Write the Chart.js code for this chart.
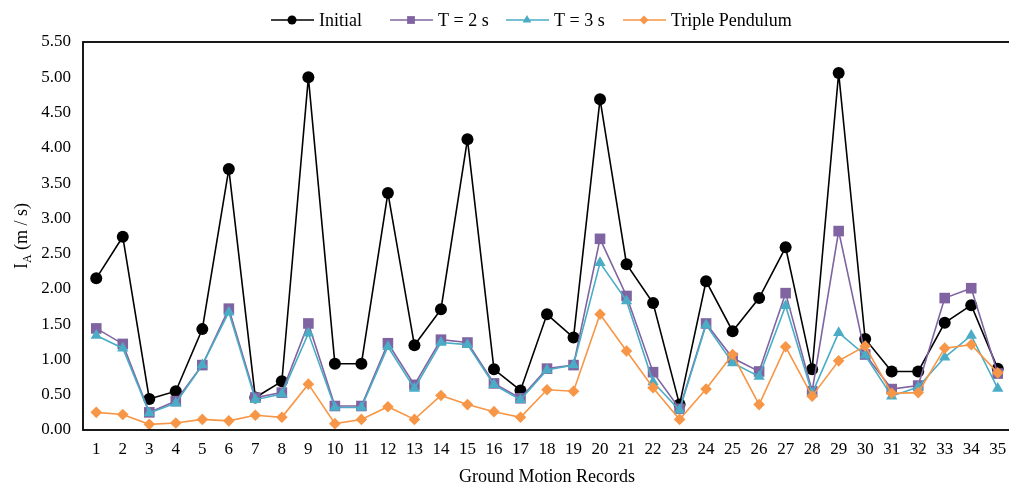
<!DOCTYPE html>
<html>
<head>
<meta charset="utf-8">
<script src="https://cdn.jsdelivr.net/npm/chart.js@4.4.1/dist/chart.umd.min.js"></script>
<style>
  body { margin: 0; background: #fff; overflow: hidden; }
  #chart { display: block; }
</style>
</head>
<body>
<canvas id="chart" width="1012" height="488"></canvas>
<script>
var records = [];
for (var r = 1; r <= 35; r++) records.push(String(r));

var initialVals = [2.15, 2.74, 0.44, 0.55, 1.43, 3.70, 0.46, 0.69, 5.00, 0.94,
  0.94, 3.36, 1.20, 1.71, 4.12, 0.86, 0.56, 1.64, 1.31, 4.69,
  2.35, 1.80, 0.36, 2.11, 1.40, 1.87, 2.59, 0.86, 5.06, 1.29,
  0.83, 0.83, 1.52, 1.77, 0.87];
var t2Vals = [1.44, 1.22, 0.25, 0.41, 0.92, 1.72, 0.46, 0.53, 1.51, 0.34,
  0.34, 1.23, 0.64, 1.28, 1.24, 0.66, 0.45, 0.87, 0.92, 2.71,
  1.90, 0.82, 0.30, 1.51, 1.02, 0.83, 1.94, 0.55, 2.82, 1.07,
  0.58, 0.63, 1.87, 2.01, 0.80];
var t3Vals = [1.34, 1.16, 0.24, 0.38, 0.92, 1.67, 0.43, 0.51, 1.37, 0.32,
  0.32, 1.18, 0.59, 1.24, 1.21, 0.64, 0.43, 0.85, 0.92, 2.37,
  1.83, 0.68, 0.28, 1.49, 0.95, 0.76, 1.76, 0.52, 1.38, 1.06,
  0.48, 0.61, 1.03, 1.34, 0.59];
var tripleVals = [0.25, 0.22, 0.08, 0.10, 0.15, 0.13, 0.21, 0.18, 0.65, 0.09,
  0.15, 0.33, 0.15, 0.49, 0.36, 0.26, 0.18, 0.57, 0.55, 1.64,
  1.12, 0.60, 0.15, 0.58, 1.07, 0.36, 1.18, 0.48, 0.98, 1.19,
  0.52, 0.53, 1.16, 1.21, 0.81];

var seriesNames = ["Initial", "T = 2 s", "T = 3 s", "Triple Pendulum"];
var seriesColors = ["#000000", "#8064A2", "#4BACC6", "#F79646"];
var seriesMarkers = ["circle", "rect", "triangle", "rectRot"];
var markerSizes = [6, 7.5, 6.5, 5.8];
var legendSizes = [4.5, 5.5, 5, 4.5];

var serif = "'Liberation Serif', 'Times New Roman', serif";
var allVals = [initialVals, t2Vals, t3Vals, tripleVals];

var datasets = allVals.map(function (vals, i) {
  return {
    label: seriesNames[i],
    data: vals,
    borderColor: seriesColors[i],
    backgroundColor: seriesColors[i],
    pointBackgroundColor: seriesColors[i],
    pointBorderColor: seriesColors[i],
    pointStyle: seriesMarkers[i],
    pointRadius: markerSizes[i],
    pointBorderWidth: 0,
    borderWidth: 1.6,
    tension: 0,
    clip: false,
    order: 4 - i
  };
});

// box around the plot + custom y title + legend with line and marker
var decorations = {
  id: "decorations",
  afterDatasetsDraw: function (chart) {
    var ctx = chart.ctx, a = chart.chartArea;
    ctx.save();
    ctx.strokeStyle = "#000";
    ctx.lineWidth = 1.8;
    ctx.strokeRect(a.left, a.top, a.right - a.left, a.bottom - a.top);
    ctx.restore();
  },
  afterDraw: function (chart) {
    var ctx = chart.ctx, a = chart.chartArea;
    ctx.save();
    // y title I_A (m / s)
    ctx.translate(27, (a.top + a.bottom) / 2);
    ctx.rotate(-Math.PI / 2);
    ctx.fillStyle = "#000";
    ctx.textBaseline = "alphabetic";
    ctx.font = "18px " + serif;
    var w1 = ctx.measureText("I").width;
    ctx.font = "12px " + serif;
    var w2 = ctx.measureText("A").width;
    ctx.font = "18px " + serif;
    var w3 = ctx.measureText(" (m / s)").width;
    var x = -(w1 + w2 + w3) / 2;
    ctx.fillText("I", x, 0);
    ctx.font = "12px " + serif;
    ctx.fillText("A", x + w1, 4);
    ctx.font = "18px " + serif;
    ctx.fillText(" (m / s)", x + w1 + w2, 0);
    ctx.restore();

    // legend
    var lineStarts = [271, 390, 506, 623];
    ctx.save();
    ctx.font = "18px " + serif;
    ctx.textBaseline = "middle";
    for (var i = 0; i < 4; i++) {
      var lx = lineStarts[i], ly = 20;
      ctx.strokeStyle = seriesColors[i];
      ctx.lineWidth = 1.5;
      ctx.beginPath();
      ctx.moveTo(lx, ly);
      ctx.lineTo(lx + 43, ly);
      ctx.stroke();
      ctx.fillStyle = seriesColors[i];
      ctx.strokeStyle = seriesColors[i];
      Chart.helpers.drawPoint(ctx, {
        pointStyle: seriesMarkers[i], radius: legendSizes[i], borderWidth: 0, rotation: 0
      }, lx + 21, ly);
      ctx.fillStyle = "#000";
      ctx.fillText(seriesNames[i], lx + 48, ly + 1);
    }
    ctx.restore();
  }
};

new Chart(document.getElementById("chart"), {
  type: "line",
  data: { labels: records, datasets: datasets },
  plugins: [decorations],
  options: {
    responsive: false,
    animation: false,
    layout: { autoPadding: false, padding: { top: 42, right: 1, left: 0, bottom: 0 } },
    plugins: {
      legend: { display: false },
      tooltip: { enabled: false }
    },
    scales: {
      x: {
        offset: true,
        grid: { display: false, drawTicks: false },
        border: { display: false },
        ticks: { color: "#000", font: { family: serif, size: 17 }, padding: 9, maxRotation: 0, autoSkip: false },
        title: { display: true, text: "Ground Motion Records", color: "#000", font: { family: serif, size: 18 }, padding: { top: 6, bottom: 0 } },
        afterFit: function (s) {
          s.height = 58;
          s.paddingLeft = 0;
          s.paddingRight = 0;
        }
      },
      y: {
        min: 0,
        max: 5.5,
        grid: { display: false, drawTicks: false },
        border: { display: false },
        ticks: {
          stepSize: 0.5,
          color: "#000",
          padding: 12,
          font: { family: serif, size: 17 },
          callback: function (v) { return v.toFixed(2); }
        },
        afterFit: function (s) { s.width = 83; }
      }
    }
  }
});
</script>
</body>
</html>
